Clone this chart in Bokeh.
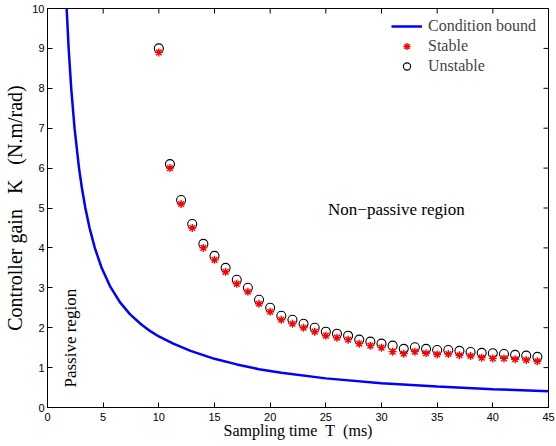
from bokeh.plotting import figure
from bokeh.models import Range1d, FixedTicker, Legend, LegendItem, Label
from bokeh.embed import file_html
from bokeh.resources import INLINE

# Condition bound
bound_T = [1.72, 1.9, 2.13, 2.43, 2.83, 3.09, 3.4, 3.78, 4.25, 4.86, 5.6, 6.5, 7.4, 8.35,
           9.2, 10.0, 11.3, 12.85, 15.0, 17.0, 19.0, 21.0, 25.0, 30.0, 35.0, 40.0, 45.0]
bound_K = [10.0, 9.0, 8.0, 7.0, 6.0, 5.5, 5.0, 4.5, 4.0, 3.5, 3.05, 2.64, 2.34, 2.1,
           1.92, 1.78, 1.6, 1.42, 1.22, 1.08, 0.96, 0.87, 0.73, 0.61, 0.525, 0.46, 0.41]

# Sampling times of the tests (ms)
test_T = list(range(10, 45))
stable_K = [8.9, 6.0, 5.1, 4.5, 4.0, 3.7, 3.4, 3.1, 2.9, 2.6, 2.4, 2.2, 2.1, 2.0, 1.9,
            1.8, 1.75, 1.7, 1.6, 1.55, 1.5, 1.4, 1.35, 1.4, 1.36, 1.33, 1.34, 1.31, 1.29,
            1.25, 1.23, 1.23, 1.21, 1.19, 1.16]
unstable_K = [9.0, 6.1, 5.2, 4.6, 4.1, 3.8, 3.5, 3.2, 3.0, 2.7, 2.5, 2.3, 2.2, 2.1, 2.0,
              1.9, 1.85, 1.8, 1.7, 1.65, 1.6, 1.55, 1.47, 1.51, 1.47, 1.44, 1.44, 1.42, 1.39,
              1.37, 1.36, 1.34, 1.32, 1.30, 1.27]

x_ticks = [0, 5, 10, 15, 20, 25, 30, 35, 40, 45]
y_ticks = [0, 1, 2, 3, 4, 5, 6, 7, 8, 9, 10]

SERIF = "Liberation Serif"
SANS = "Liberation Sans"

p = figure(frame_width=501, frame_height=399, output_backend="svg", toolbar_location=None,
           x_range=Range1d(x_ticks[0], x_ticks[-1]), y_range=Range1d(y_ticks[0], y_ticks[-1]),
           min_border_left=47, min_border_right=8, min_border_top=8, min_border_bottom=39)
p.grid.visible = False
p.outline_line_color = "black"
p.outline_line_width = 1
p.outline_line_alpha = 1

for ax in p.xaxis + p.yaxis:
    ax.major_tick_in = 5
    ax.major_tick_out = 0
    ax.minor_tick_in = 0
    ax.minor_tick_out = 0
    ax.axis_line_color = "black"
    ax.major_tick_line_color = "black"
    ax.major_label_text_font = SANS
    ax.major_label_text_color = "black"
    ax.major_label_text_font_size = "11px"
    ax.axis_label_text_font = SERIF
    ax.axis_label_text_font_style = "normal"
    ax.axis_label_text_color = "black"

p.xaxis.ticker = FixedTicker(ticks=x_ticks)
p.yaxis.ticker = FixedTicker(ticks=y_ticks)
p.xaxis.axis_label = "Sampling time \u00a0T\u00a0 (ms)"
p.yaxis.axis_label = "Controller gain \u00a0\u00a0K\u00a0\u00a0 (N.m/rad)"
p.xaxis.axis_label_text_font_size = "16px"
p.yaxis.axis_label_text_font_size = "20px"
p.xaxis.major_label_standoff = 5
p.yaxis.major_label_standoff = 3
p.xaxis.axis_label_standoff = -2
p.yaxis.axis_label_standoff = 3

# mirrored ticks on top and right edges (half of each dash is clipped by the frame)
p.scatter(x_ticks, [y_ticks[-1]] * len(x_ticks), marker="dash", angle=1.5707963,
          size=10, line_color="black", line_width=1)
p.scatter([x_ticks[-1]] * len(y_ticks), y_ticks, marker="dash",
          size=10, line_color="black", line_width=1)

r_bound = p.line(bound_T, bound_K, line_color="#0000ff", line_width=2.5)
r_unst = p.scatter(test_T, unstable_K, marker="circle", size=9, fill_color=None,
                   line_color="black", line_width=1.1)
r_stab = p.scatter(test_T, stable_K, marker="asterisk", size=8, line_color="red",
                   line_width=1.4)

legend = Legend(items=[LegendItem(label="Condition bound", renderers=[r_bound]),
                       LegendItem(label="Stable", renderers=[r_stab]),
                       LegendItem(label="Unstable", renderers=[r_unst])],
                location=(344, 332), border_line_alpha=0, background_fill_alpha=0,
                label_text_font=SERIF, label_text_font_size="16px",
                glyph_width=31, glyph_height=18, label_height=18, spacing=2,
                label_standoff=6, padding=0, margin=0)
p.add_layout(legend)

p.add_layout(Label(x=25.2, y=4.95, text="Non\u2212passive region", text_font=SERIF,
                   text_font_size="17px", text_align="left", text_baseline="middle",
                   text_color="black"))
p.add_layout(Label(x=2.05, y=0.5, text="Passive region", text_font=SERIF,
                   text_font_size="17px", text_align="left", text_baseline="middle",
                   angle=1.5707963, text_color="black"))

open("out.html", "w").write(file_html(p, INLINE))
